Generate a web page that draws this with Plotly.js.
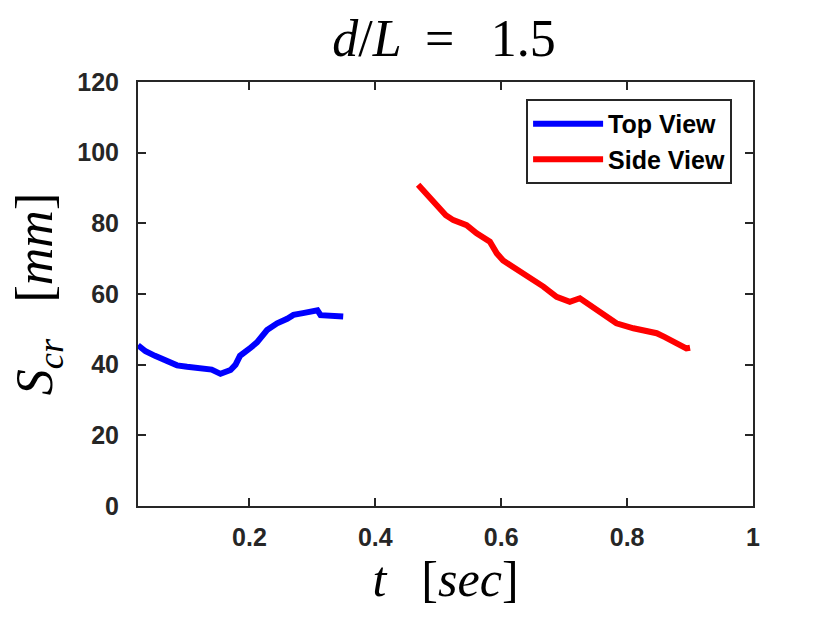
<!DOCTYPE html>
<html>
<head>
<meta charset="utf-8">
<script src="https://cdn.plot.ly/plotly-3.0.1.min.js"></script>
<style>
  html, body { margin: 0; padding: 0; background: #fff; }
  #plot { width: 830px; height: 623px; }
</style>
</head>
<body>
<div id="plot"></div>
<script>
// data
//
const top_t = [0.023, 0.035, 0.05, 0.069, 0.085, 0.101, 0.115, 0.127, 0.140, 0.154,
               0.162, 0.170, 0.178, 0.185, 0.20, 0.212, 0.228, 0.244, 0.26, 0.270,
               0.285, 0.302, 0.308, 0.313, 0.33, 0.349];
const top_s = [45.5, 43.8, 42.5, 40.8, 39.8, 39.4, 39.2, 39.0, 38.6, 37.4,
               37.8, 38.5, 40.0, 42.5, 44.5, 46.3, 49.8, 51.7, 53.0, 54.1,
               54.6, 55.0, 55.4, 54.0, 54.0, 53.6];

const side_t = [0.468, 0.478, 0.487, 0.500, 0.512, 0.524, 0.545, 0.561, 0.582, 0.593,
                0.603, 0.614, 0.635, 0.650, 0.667, 0.688, 0.709, 0.725, 0.740, 0.752,
                0.768, 0.783, 0.810, 0.830, 0.847, 0.860, 0.873, 0.894, 0.900];
const side_s = [90.9, 89.0, 87.1, 84.7, 82.3, 80.9, 79.5, 77.2, 74.8, 71.5,
                69.5, 68.2, 65.9, 64.0, 62.1, 59.2, 57.8, 58.8, 57.0, 55.5,
                53.3, 51.7, 50.3, 49.5, 48.9, 47.8, 46.5, 44.6, 44.8];

const x_ticks = [0.2, 0.4, 0.6, 0.8, 1];
const x_labels = ['0.2', '0.4', '0.6', '0.8', '1'];
const y_ticks = [0, 20, 40, 60, 80, 100, 120];

const ink = '#262626';
const serif = '"Liberation Serif", "DejaVu Serif", serif';
const sans = '"Liberation Sans", Arial, sans-serif';

// build traces
//
const traces = [
  {
    x: top_t, y: top_s, name: '<b>Top View</b>',
    type: 'scatter', mode: 'lines',
    line: { color: '#0000ff', width: 6 }
  },
  {
    x: side_t, y: side_s, name: '<b>Side View</b>',
    type: 'scatter', mode: 'lines',
    line: { color: '#ff0000', width: 6 }
  }
];

// axes shared styling
//
const axis_common = {
  showline: true, linecolor: ink, linewidth: 2,
  mirror: 'ticks', ticks: 'inside', ticklen: 8, tickwidth: 2, tickcolor: ink,
  showgrid: false, zeroline: false,
  tickfont: { family: sans, size: 25, color: ink, weight: 'bold' }
};

const layout = {
  width: 830, height: 623,
  paper_bgcolor: '#fff', plot_bgcolor: '#fff',
  margin: { l: 138, r: 77, t: 82, b: 117 },
  showlegend: true,
  title: {
    text: '<i>d</i>/<i>L</i>\u2009 = \u2009 1.5',
    font: { family: serif, size: 52, color: '#000' },
    x: 0.535, xanchor: 'center', y: 0.94, yanchor: 'middle'
  },
  xaxis: Object.assign({}, axis_common, {
    range: [0.023, 1],
    tickvals: x_ticks, ticktext: x_labels,
    ticklabelstandoff: 8,
    title: { text: '<i>t</i>\u2009  [<i>sec</i>]', font: { family: serif, size: 50, color: '#000' }, standoff: 8 }
  }),
  yaxis: Object.assign({}, axis_common, {
    range: [0, 120],
    tickvals: y_ticks,
    ticklabelstandoff: 12,
    title: { text: '<i>S<sub>cr</sub></i>\u2009  [<i>mm</i>]', font: { family: serif, size: 52, color: '#000' }, standoff: 8 }
  }),
  legend: {
    x: 0.966, xanchor: 'right', y: 0.96, yanchor: 'top',
    bgcolor: '#fff', bordercolor: ink, borderwidth: 2,
    font: { family: sans, size: 25, color: '#000' },
    tracegroupgap: 0, itemwidth: 70
  }
};

Plotly.newPlot('plot', traces, layout, { displayModeBar: false, staticPlot: true });
</script>
</body>
</html>
